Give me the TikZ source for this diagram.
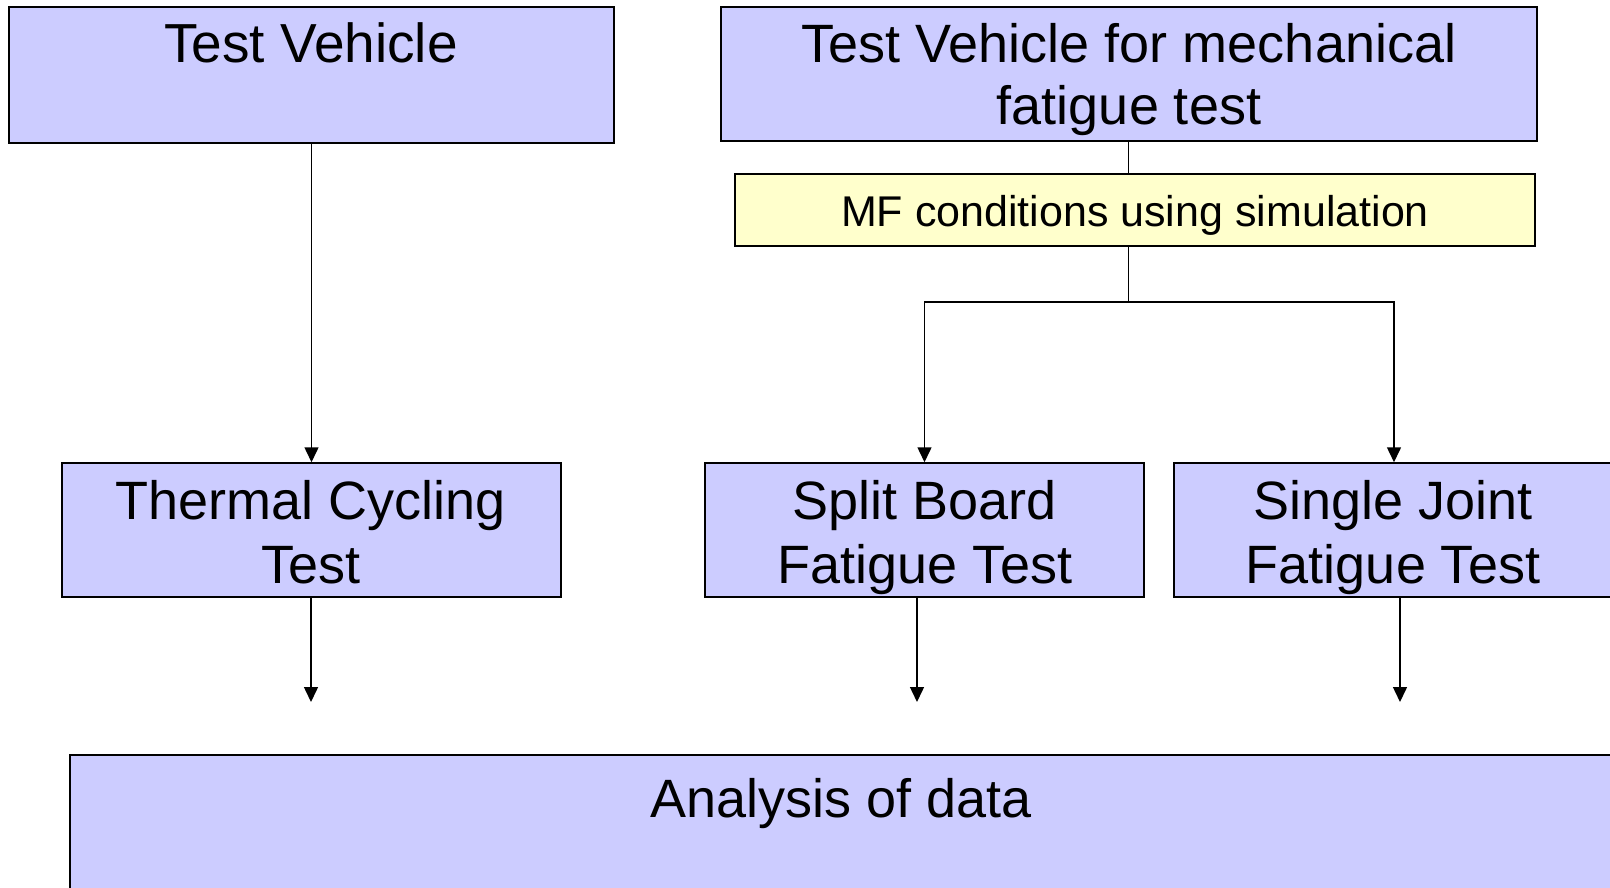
\documentclass[tikz,border=0pt]{standalone}
\usepackage{fontspec}
\setmainfont{Liberation Sans}
\usetikzlibrary{arrows.meta}
\definecolor{boxblue}{RGB}{204,204,255}
\definecolor{boxyellow}{RGB}{255,255,204}
\begin{document}
\begin{tikzpicture}[x=1pt,y=-1pt,
  box/.style={draw=black,line width=1.5pt,fill=boxblue,rectangle,inner sep=0pt},
  ybox/.style={box,fill=boxyellow},
  txt/.style={anchor=base,inner sep=0pt,font=\fontsize{54}{62}\selectfont},
  stxt/.style={anchor=base,inner sep=0pt,font=\fontsize{43}{50}\selectfont},
  link/.style={line width=1.5pt},
  arr/.style={link,-{Triangle[width=14pt,length=15pt]}}]
\clip (0,0) rectangle (1610,888);
\fill[white] (0,0) rectangle (1610,888);
% boxes
\node[box,minimum width=605pt,minimum height=136pt] (tv) at (311.5,75) {};
\node[box,minimum width=816pt,minimum height=134pt] (tvmf) at (1129,74) {};
\node[ybox,minimum width=800pt,minimum height=72pt] (mf) at (1135,210) {};
\node[box,minimum width=499pt,minimum height=134pt] (tc) at (311.5,530) {};
\node[box,minimum width=439pt,minimum height=134pt] (sb) at (924.5,530) {};
\node[box,minimum width=440pt,minimum height=134pt] (sj) at (1394,530) {};
\node[box,minimum width=1544pt,minimum height=140pt] (an) at (842,825) {};
% texts
\node[txt,font=\fontsize{55}{62}\selectfont] (tvt) at (311,63) {Test Vehicle};
\node[txt] (tvmft1) at (1129,63) {Test Vehicle for mechanical};
\node[txt] (tvmft2) at (1129,125) {fatigue test};
\node[stxt] (mft) at (1135,226) {MF conditions using simulation};
\node[txt] (tct1) at (311,519) {Thermal Cycling};
\node[txt] (tct2) at (311,583) {Test};
\node[txt] (sbt1) at (925,519) {Split Board};
\node[txt] (sbt2) at (925,583) {Fatigue Test};
\node[txt] (sjt1) at (1393,519) {Single Joint};
\node[txt] (sjt2) at (1393,583) {Fatigue Test};
\node[txt] (ant) at (841,817) {Analysis of data};
% connectors
\coordinate (split) at (1128.5,302);
\coordinate (tcend) at (311,702);
\coordinate (sbend) at (917,702);
\coordinate (sjend) at (1400,702);
\draw[arr] (tv.south) -- (tc.north);
\draw[link] (split |- tvmf.south) -- (split |- mf.north);
\draw[link] (split |- mf.south) -- (split);
\draw[arr] (split) -| (sb.north);
\draw[arr] (split) -| (sj.north);
\draw[arr] (tcend |- tc.south) -- (tcend);
\draw[arr] (sbend |- sb.south) -- (sbend);
\draw[arr] (sjend |- sj.south) -- (sjend);
\end{tikzpicture}
\end{document}
